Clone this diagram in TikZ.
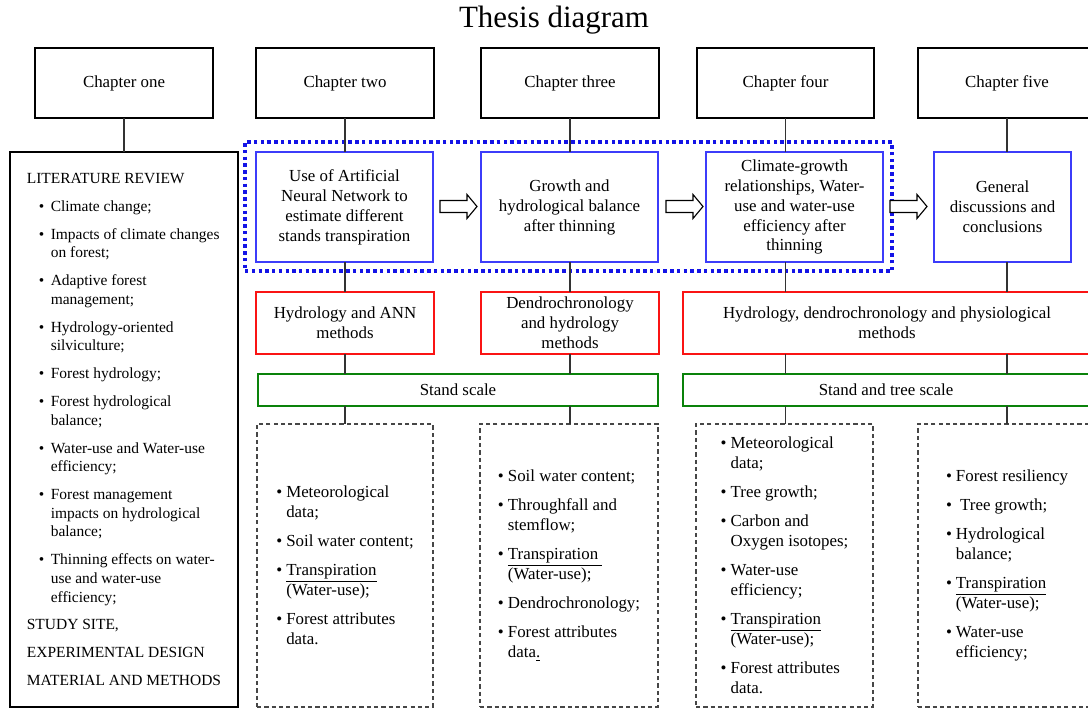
\documentclass[tikz,border=0pt]{standalone}
\usepackage{fontspec}
\setmainfont{Liberation Serif}
\usetikzlibrary{positioning}

\definecolor{boxblue}{RGB}{60,60,250}
\definecolor{dotblue}{RGB}{20,20,230}
\definecolor{methred}{RGB}{250,20,20}
\definecolor{scalegreen}{RGB}{10,130,10}
\definecolor{datagray}{RGB}{70,70,70}

\newcommand{\pxu}{0.025cm}
\newcommand{\litem}{\hspace*{8.5pt}\makebox[8.5pt][l]{\textbullet}}
\newcommand{\lcont}{\hspace*{17pt}}
\newcommand{\ditem}{\makebox[7.1pt][l]{\textbullet}}
\newcommand{\dcont}{\hspace*{7.1pt}}

\begin{document}
\begin{tikzpicture}[x=0.025cm, y=-0.025cm,
    boxsize/.style 2 args = {minimum width=#1*\pxu, minimum height=#2*\pxu},
    base/.style = {anchor=north west, outer sep=0pt, inner sep=2pt, align=center, font=\fontsize{12}{14.2}\selectfont},
    chapter/.style = {base, draw, line width=1.8pt},
    topic/.style = {base, draw=boxblue, line width=0.9pt},
    methods/.style = {base, draw=methred, line width=1.8pt},
    scalebox/.style = {base, draw=scalegreen, line width=1.8pt},
    data/.style = {base, align=left, draw=datagray, line width=0.9pt, dash pattern=on 3pt off 2.2pt},
    review/.style = {base, align=left, draw, line width=0.9pt, font=\fontsize{11}{13.2}\selectfont},
    group/.style = {anchor=north west, outer sep=0pt, draw=dotblue, line width=2.5pt, dash pattern=on 2.4pt off 2.4pt},
    hollow/.style = {draw, fill=white, line width=0.8pt},
    link/.style = {draw=black!80, line width=0.8pt}]

    \useasboundingbox (0,0) rectangle (1088,709);
    \fill [white] (0,0) rectangle (1088,709);
    \clip (0,0) rectangle (1088,709);

    \node [font=\fontsize{22}{26}\selectfont] (title) at (554,20) {Thesis diagram};

    \node [chapter, boxsize={178}{70}] (ch1) at (35,48)  {Chapter one};
    \node [chapter, boxsize={178}{70}] (ch2) at (256,48) {Chapter two};
    \node [chapter, boxsize={178}{70}] (ch3) at (481,48) {Chapter three};
    \node [chapter, boxsize={177}{70}] (ch4) at (697,48) {Chapter four};
    \node [chapter, boxsize={178}{70}] (ch5) at (918,48) {Chapter five};

    \node [review, boxsize={228}{555}] (lit) at (10,152) {LITERATURE REVIEW\\[6.7pt]
        \litem Climate change;\\[6.7pt]
        \litem Impacts of climate changes\\ \lcont on forest;\\[6.7pt]
        \litem Adaptive forest\\ \lcont management;\\[6.7pt]
        \litem Hydrology-oriented\\ \lcont silviculture;\\[6.7pt]
        \litem Forest hydrology;\\[6.7pt]
        \litem Forest hydrological\\ \lcont balance;\\[6.7pt]
        \litem Water-use and Water-use\\ \lcont efficiency;\\[6.7pt]
        \litem Forest management\\ \lcont impacts on hydrological\\ \lcont balance;\\[6.7pt]
        \litem Thinning effects on water-\\ \lcont use and water-use\\ \lcont efficiency;\\[6.7pt]
        STUDY SITE,\\[6.7pt]
        EXPERIMENTAL DESIGN\\[6.7pt]
        MATERIAL AND METHODS};

    \node [group, boxsize={647}{129}] (focus) at (245,142) {};

    \node [topic, boxsize={177}{110}] (b2) at (256,152) {Use of Artificial\\ Neural Network to\\ estimate different\\ stands transpiration};
    \node [topic, boxsize={177}{110}] (b3) at (481,152) {Growth and\\ hydrological balance\\ after thinning};
    \node [topic, boxsize={177}{110}] (b4) at (706,152) {Climate-growth\\ relationships, Water-\\ use and water-use\\ efficiency after\\ thinning};
    \node [topic, boxsize={137}{110}] (b5) at (934,152) {General\\ discussions and\\ conclusions};

    \foreach \xa in {440, 666, 890}
        \draw [hollow] (\xa,200.5) -- ++(27,0) -- ++(0,-6) -- ++(10,12) -- ++(-10,12) -- ++(0,-6) -- ++(-27,0) -- cycle;

    \node [methods, boxsize={178}{62}] (r1) at (256,292) {Hydrology and ANN\\ methods};
    \node [methods, boxsize={178}{62}] (r2) at (481,292) {Dendrochronology\\ and hydrology\\ methods};
    \node [methods, boxsize={408}{62}] (r3) at (683,292) {Hydrology, dendrochronology and physiological\\ methods};

    \node [scalebox, boxsize={400}{32}] (g1) at (258,374) {Stand scale};
    \node [scalebox, boxsize={406}{32}] (g2) at (683,374) {Stand and tree scale};

    \node [data, boxsize={176}{283}] (d1) at (257,424) {\ditem Meteorological\\ \dcont data;\\[6.4pt]
        \ditem Soil water content;\\[6.4pt]
        \ditem \underline{Transpiration}\\ \dcont (Water-use);\\[6.4pt]
        \ditem Forest attributes\\ \dcont data.};
    \node [data, boxsize={178}{283}] (d2) at (480,424) {\ditem Soil water content;\\[6.4pt]
        \ditem Throughfall and\\ \dcont stemflow;\\[6.4pt]
        \ditem \underline{Transpiration\ }\\ \dcont (Water-use);\\[6.4pt]
        \ditem Dendrochronology;\\[6.4pt]
        \ditem Forest attributes\\ \dcont data\underline{.}};
    \node [data, boxsize={177}{283}] (d3) at (696,424) {\ditem Meteorological\\ \dcont data;\\[6.4pt]
        \ditem Tree growth;\\[6.4pt]
        \ditem Carbon and\\ \dcont Oxygen isotopes;\\[6.4pt]
        \ditem Water-use\\ \dcont efficiency;\\[6.4pt]
        \ditem \underline{Transpiration}\\ \dcont (Water-use);\\[6.4pt]
        \ditem Forest attributes\\ \dcont data.};
    \node [data, boxsize={178}{283}] (d4) at (918,424) {\ditem Forest resiliency\\[6.4pt]
        \ditem \ Tree growth;\\[6.4pt]
        \ditem Hydrological\\ \dcont balance;\\[6.4pt]
        \ditem \underline{Transpiration}\\ \dcont (Water-use);\\[6.4pt]
        \ditem Water-use\\ \dcont efficiency;};

    \draw [link] (ch1.south) -- (ch1.south |- lit.north);

    \draw [link] (ch2.south) -- (ch2.south |- b2.north);
    \draw [link] (b2.south -| ch2.south) -- (r1.north -| ch2.south);
    \draw [link] (r1.south -| ch2.south) -- (g1.north -| ch2.south);
    \draw [link] (g1.south -| ch2.south) -- (d1.north -| ch2.south);

    \draw [link] (ch3.south) -- (ch3.south |- b3.north);
    \draw [link] (b3.south -| ch3.south) -- (r2.north -| ch3.south);
    \draw [link] (r2.south -| ch3.south) -- (g1.north -| ch3.south);
    \draw [link] (g1.south -| ch3.south) -- (d2.north -| ch3.south);

    \draw [link] (ch4.south) -- (ch4.south |- b4.north);
    \draw [link] (b4.south -| ch4.south) -- (r3.north -| ch4.south);
    \draw [link] (r3.south -| ch4.south) -- (g2.north -| ch4.south);
    \draw [link] (g2.south -| ch4.south) -- (d3.north -| ch4.south);

    \draw [link] (ch5.south) -- (ch5.south |- b5.north);
    \draw [link] (b5.south -| ch5.south) -- (r3.north -| ch5.south);
    \draw [link] (r3.south -| ch5.south) -- (g2.north -| ch5.south);
    \draw [link] (g2.south -| ch5.south) -- (d4.north -| ch5.south);
\end{tikzpicture}
\end{document}
